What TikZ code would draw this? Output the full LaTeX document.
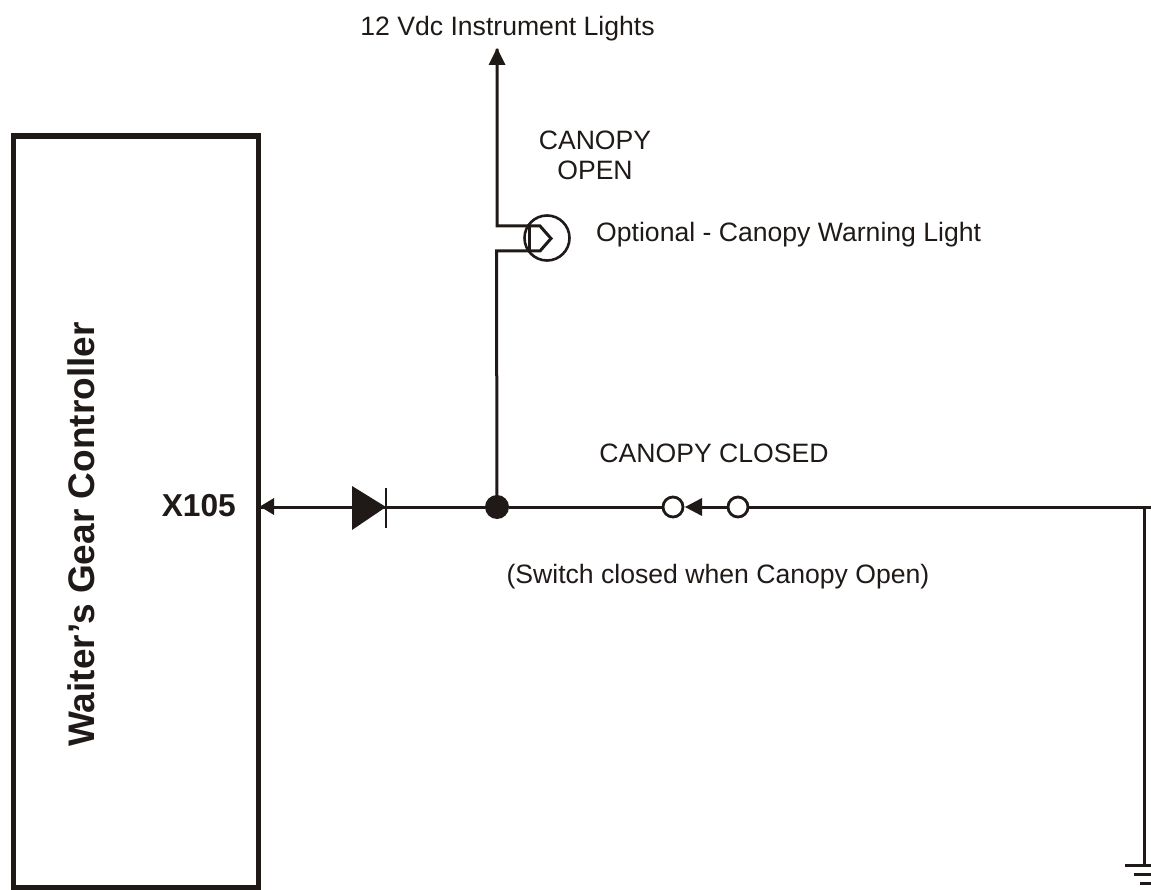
\documentclass[tikz,border=0pt]{standalone}
\usepackage{fontspec}
\setmainfont{Liberation Sans}
\tikzset{
  wire/.style={line width=3pt,draw=ink},
  thin wire/.style={line width=2.4pt,draw=ink},
  label text/.style={font=\fontsize{26.6}{30}\selectfont,text=ink,inner sep=0pt,align=center},
  terminal/.style={circle,draw=ink,line width=2.8pt,fill=white,minimum size=20pt,inner sep=0pt},
}
\definecolor{ink}{HTML}{1F1A17}
\begin{document}
\begin{tikzpicture}[x=1pt,y=-1pt]
\useasboundingbox (0,0) rectangle (1151,890);
\node[draw=ink,line width=5.5pt,minimum width=245pt,minimum height=752pt,inner sep=0pt,outer sep=0pt,fill=white] (ctrl) at (136,512) {};
\node[font=\fontsize{37}{44}\selectfont\bfseries,text=ink,inner sep=0pt,rotate=90] (title) at (81,534.5) {Waiter’s Gear Controller};
\node[font=\fontsize{31.7}{38}\selectfont\bfseries,text=ink,inner sep=0pt,anchor=east] (x105) at (236,505.5) {X105};
\node[label text] (t12) at (507.5,28.5) {12 Vdc Instrument Lights};
\node[label text] (topen) at (595,155) {CANOPY\\OPEN};
\node[label text,anchor=west] (topt) at (596,235) {Optional - Canopy Warning Light};
\node[label text] (tclosed) at (714,453) {CANOPY CLOSED};
\node[label text] (tsw) at (718,577) {(Switch closed when Canopy Open)};

\coordinate (lights) at (497,49);
\coordinate (lt) at (497,226);
\coordinate (lb) at (496.5,251);
\coordinate (jn) at (497,507);
\coordinate (pin) at (258,507);
\coordinate (corner) at (1144.5,507);
\coordinate (rend) at (1151,507);
\coordinate (gnd) at (1144.5,865);
\coordinate (swtip) at (700,507);

% lamp
\node[circle,draw=ink,line width=2.6pt,minimum size=45pt,inner sep=0pt] (lamp) at (547,238) {};
\draw[wire,line join=miter] (lights) -- (lt) -- (540,226) -- (551,238.5) -- (540,251) -- (lb) -- (jn);
\draw[wire] (529,226) -- (529,251);
\fill[ink] (497,48) -- (505.5,65) -- (488.5,65) -- cycle;

% diode and left arrow
\draw[wire] (pin) -- (jn);
\fill[ink] (260,506.5) -- (274,498) -- (274,515) -- cycle;
\fill[ink] (352,486) -- (386,507) -- (352,530) -- cycle;
\draw[thin wire] (386,487.5) -- (386,528);

\node[circle,fill=ink,minimum size=24pt,inner sep=0pt] (dot) at (jn) {};

% switch
\node[terminal] (s1) at (673,507) {};
\node[terminal] (s2) at (738,507) {};
\draw[wire] (dot) -- (s1);
\draw[wire] (s2.east) -- (rend);
\draw[wire] (s2.west) -- (swtip);
\fill[ink] (685,507) -- (702,498) -- (702,516) -- cycle;

% ground
\draw[wire] (corner) -- (gnd);
\draw[wire] (1125,865) -- (1151,865);
\draw[wire] (1134,874) -- (1151,874);
\draw[wire] (1140,883) -- (1151,883);
\end{tikzpicture}
\end{document}
